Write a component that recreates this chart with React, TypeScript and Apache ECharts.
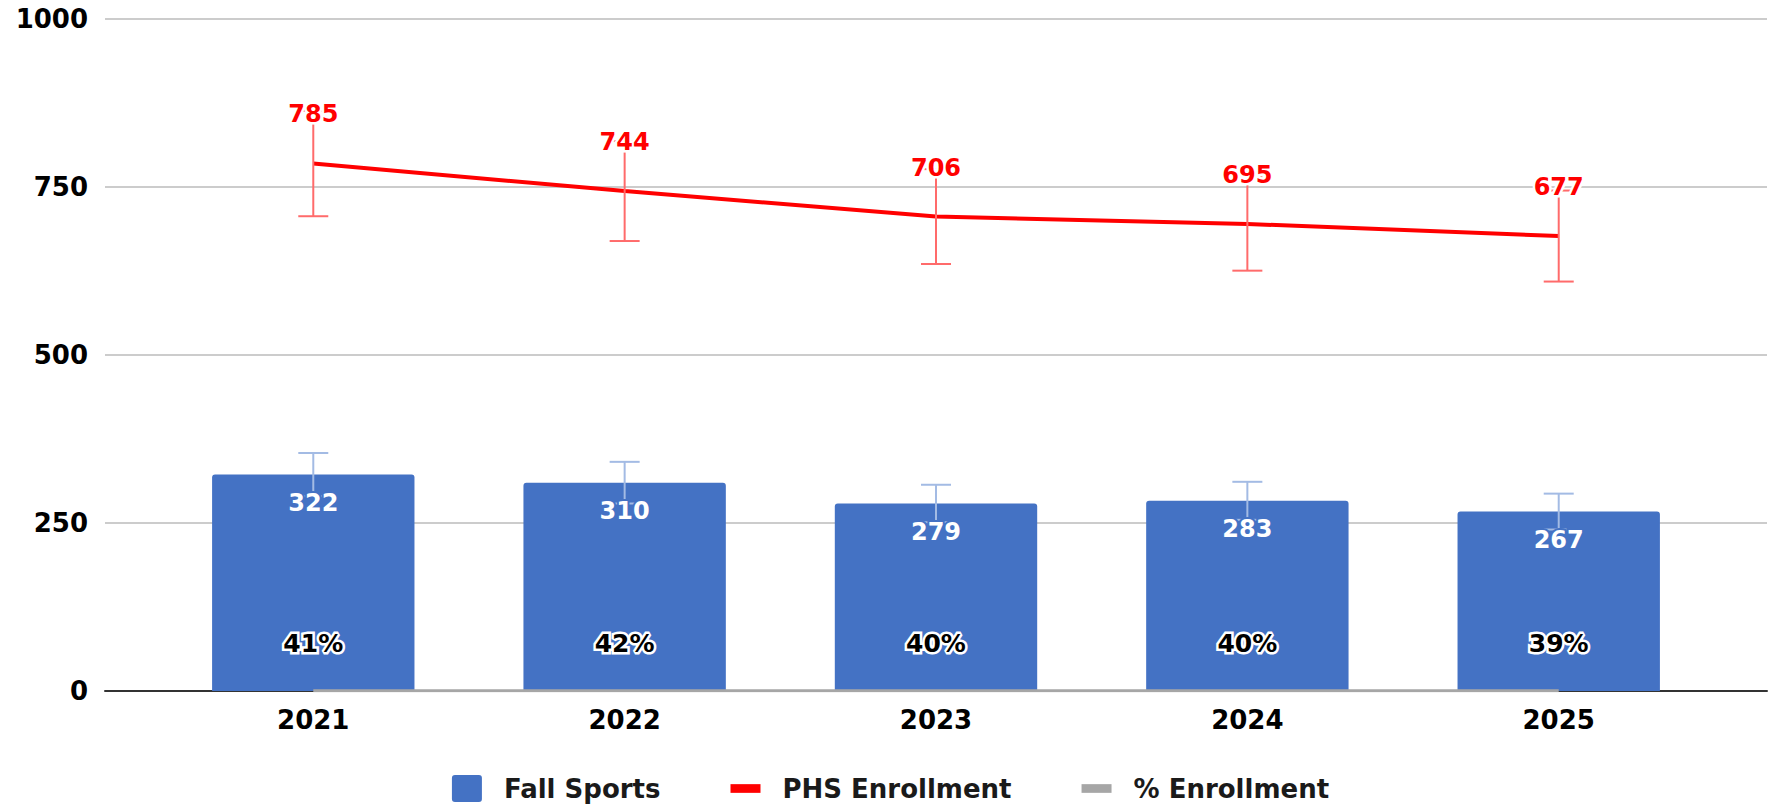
import React, { useEffect, useRef } from "react";
import * as echarts from "echarts";

const years = ["2021", "2022", "2023", "2024", "2025"];
const fallSports = [322, 310, 279, 283, 267];
const enrollment = [785, 744, 706, 695, 677];
const pctEnrollment = [41, 42, 40, 40, 39];
const yTicks = [0, 250, 500, 750, 1000];
const errorShare = 0.1;

const BLUE = "#4472c4";
const BLUE_ERR = "#a3bbe4";
const RED = "#ff0000";
const RED_ERR = "#ff6b6b";
const GREY = "#a6a6a6";
const FONT = "DejaVu Sans";

function errData(values: number[]) {
  return values.map((v, i) => [i, v, v * (1 - errorShare), v * (1 + errorShare)]);
}

function makeErrRender(lineColor: string, textFill: string, haloColor: string, haloWidth: number, labelY: (p: number[]) => number) {
  return (params: any, api: any) => {
    const i = api.value(0);
    const v = api.value(1);
    const p = api.coord([i, v]);
    const lo = api.coord([i, api.value(2)]);
    const hi = api.coord([i, api.value(3)]);
    const cap = 15;
    const ls = { stroke: lineColor, lineWidth: 2 };
    return {
      type: "group",
      children: [
        { type: "line", shape: { x1: p[0], y1: lo[1], x2: p[0], y2: hi[1] }, style: ls },
        { type: "line", shape: { x1: p[0] - cap, y1: lo[1], x2: p[0] + cap, y2: lo[1] }, style: ls },
        { type: "line", shape: { x1: p[0] - cap, y1: hi[1], x2: p[0] + cap, y2: hi[1] }, style: ls },
        {
          type: "text",
          x: p[0],
          y: labelY(p),
          style: {
            text: String(v),
            fill: textFill,
            stroke: haloColor,
            lineWidth: haloWidth,
            fontFamily: FONT,
            fontWeight: "bold",
            fontSize: 24,
            align: "center",
            verticalAlign: "middle",
          },
        },
      ],
    };
  };
}

export default function App() {
  const ref = useRef<HTMLDivElement>(null);
  useEffect(() => {
    if (!ref.current) return;
    const chart = echarts.init(ref.current, undefined, { renderer: "svg" });
    const yMin = yTicks[0];
    const yMax = yTicks[yTicks.length - 1];
    const interval = yTicks[1] - yTicks[0];
    const gridTop = 19;
    const gridBottom = 113;
    const lineIcon = "path://M0,0H31V9H0Z";
    const boxIcon = "path://M3,0H27Q30,0 30,3V24Q30,27 27,27H3Q0,27 0,24V3Q0,0 3,0Z";
    chart.setOption({
      animation: false,
      backgroundColor: "#ffffff",
      grid: [
        { left: 105, right: 14, top: gridTop, bottom: gridBottom },
        { left: 157.6, right: 66.6, top: gridTop, bottom: gridBottom },
      ],
      xAxis: [
        {
          type: "value",
          gridIndex: 0,
          min: 0,
          max: 1,
          axisLine: { show: true, onZero: false, lineStyle: { color: "#333333", width: 2 } },
          axisTick: { show: false },
          axisLabel: { show: false },
          splitLine: { show: false },
        },
        {
          type: "category",
          gridIndex: 1,
          data: years,
          axisLine: { show: false },
          axisTick: { show: false },
          axisLabel: {
            color: "#000000",
            fontFamily: FONT,
            fontWeight: "bold",
            fontSize: 26,
            margin: 16,
          },
        },
      ],
      yAxis: [
        {
          type: "value",
          gridIndex: 0,
          min: yMin,
          max: yMax,
          interval,
          axisLine: { show: false },
          axisTick: { show: false },
          axisLabel: {
            color: "#000000",
            fontFamily: FONT,
            fontWeight: "bold",
            fontSize: 26,
            margin: 17,
            formatter: (v: number) => String(v),
          },
          splitLine: { lineStyle: { color: "#cccccc", width: 2 } },
        },
        {
          type: "value",
          gridIndex: 1,
          min: yMin,
          max: yMax,
          interval,
          show: false,
          splitLine: { show: false },
        },
      ],
      legend: {
        top: 770,
        left: "center",
        itemWidth: 30,
        itemHeight: 27,
        itemGap: 70,
        textStyle: {
          color: "#1a1a1a",
          fontFamily: FONT,
          fontWeight: "bold",
          fontSize: 26,
          padding: [0, 0, 0, 17],
        },
        data: [
          { name: "Fall Sports", icon: boxIcon },
          { name: "PHS Enrollment", icon: lineIcon },
          { name: "% Enrollment", icon: lineIcon },
        ],
      },
      series: [
        {
          name: "Fall Sports",
          type: "bar",
          xAxisIndex: 1,
          yAxisIndex: 1,
          data: fallSports,
          barWidth: "65%",
          itemStyle: { color: BLUE, borderRadius: [3, 3, 0, 0] },
          z: 2,
        },
        {
          name: "PHS Enrollment",
          type: "line",
          xAxisIndex: 1,
          yAxisIndex: 1,
          data: enrollment,
          color: RED,
          itemStyle: { color: RED },
          lineStyle: { color: RED, width: 4 },
          symbol: "none",
          z: 3,
        },
        {
          name: "% Enrollment",
          type: "line",
          xAxisIndex: 1,
          yAxisIndex: 1,
          data: pctEnrollment.map((p) => p / 100),
          color: GREY,
          itemStyle: { color: GREY },
          lineStyle: { color: GREY, width: 3 },
          symbol: "none",
          z: 3,
        },
        {
          type: "custom",
          xAxisIndex: 1,
          yAxisIndex: 1,
          data: errData(fallSports),
          renderItem: makeErrRender(BLUE_ERR, "#ffffff", BLUE, 4, (p) => p[1] + 28),
          z: 4,
        },
        {
          type: "custom",
          xAxisIndex: 1,
          yAxisIndex: 1,
          data: errData(enrollment),
          renderItem: makeErrRender(RED_ERR, RED, "#ffffff", 5, (p) => p[1] - 49),
          z: 5,
        },
        {
          type: "custom",
          xAxisIndex: 1,
          yAxisIndex: 1,
          data: pctEnrollment.map((p, i) => [i, p / 100, p]),
          renderItem: (params: any, api: any) => {
            const pt = api.coord([api.value(0), api.value(1)]);
            return {
              type: "text",
              x: pt[0],
              y: pt[1] - 47,
              style: {
                text: api.value(2) + "%",
                fill: "#000000",
                stroke: "#ffffff",
                lineWidth: 5,
                fontFamily: FONT,
                fontWeight: "bold",
                fontSize: 25,
                align: "center",
                verticalAlign: "middle",
              },
            };
          },
          z: 6,
        },
      ],
    });
    return () => chart.dispose();
  }, []);
  return (
    <div
      ref={ref}
      style={{ position: "fixed", left: 0, top: 0, width: 1781, height: 804 }}
    />
  );
}
